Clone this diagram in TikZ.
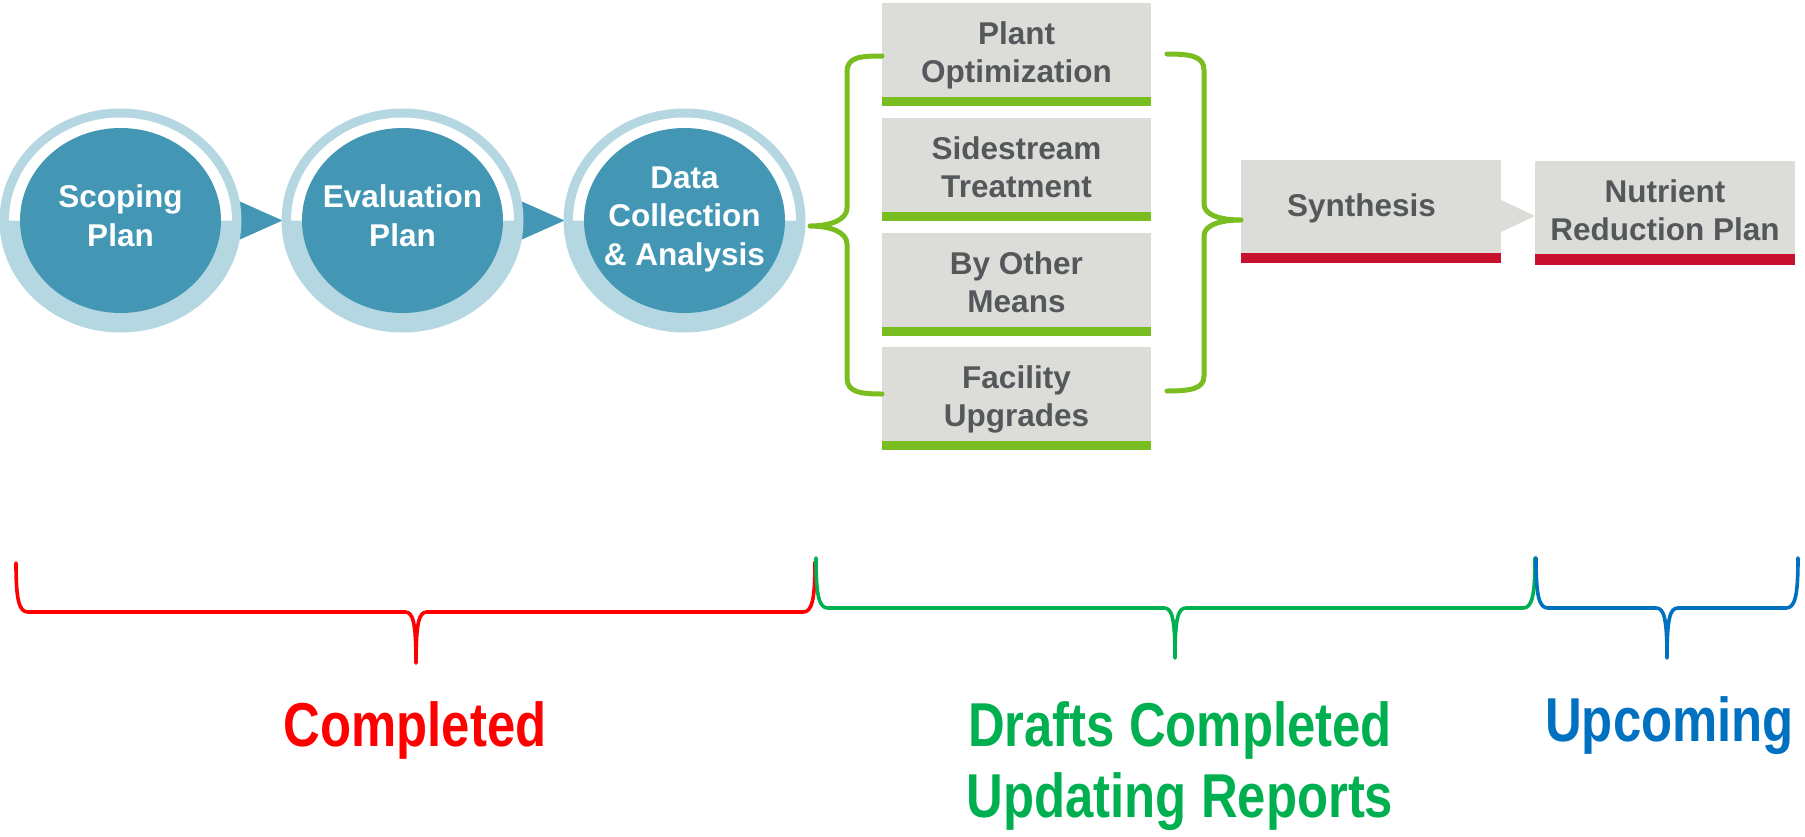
\documentclass[tikz,border=0pt]{standalone}
\usepackage{fontspec}
\setmainfont{Liberation Sans}
\usetikzlibrary{calc}
\definecolor{ringblue}{HTML}{B4D7E2}
\definecolor{darkteal}{HTML}{4397B5}
\definecolor{boxgray}{HTML}{DCDDD8}
\definecolor{bargreen}{HTML}{7ABD21}
\definecolor{barred}{HTML}{C8102E}
\definecolor{txtgray}{HTML}{54585A}
\definecolor{lblred}{HTML}{FF0000}
\definecolor{lblgreen}{HTML}{00B050}
\definecolor{lblblue}{HTML}{0070C0}
\begin{document}
\begin{tikzpicture}[x=1pt,y=-1pt,
  ctext/.style={text=white,font=\fontsize{31.5}{38}\selectfont\bfseries,anchor=base,inner sep=0pt},
  btext/.style={text=txtgray,font=\fontsize{31.5}{38}\selectfont\bfseries,anchor=base,inner sep=0pt},
  gbox/.style={fill=boxgray,anchor=north west,minimum width=269pt,minimum height=94pt,inner sep=0pt,outer sep=0pt},
  rbox/.style={fill=boxgray,anchor=north west,minimum width=260pt,minimum height=93pt,inner sep=0pt,outer sep=0pt},
  lbl/.style={font=\fontsize{62}{70}\selectfont\bfseries,anchor=base,inner sep=0pt},
  topbrace/.style={draw=bargreen,line width=5pt,line cap=round,line join=round},
  lowbrace/.style={line width=3.6pt,line cap=round,line join=round},
]
\useasboundingbox (0,0) rectangle (1805,836);

% circle centres
\coordinate (c1) at (120.5,220.5);
\coordinate (c2) at (402.5,220.5);
\coordinate (c3) at (684.5,220.5);

% arrow triangles between circles
\fill[darkteal] ($(c1)+(109.5,-23.4)$) -- ($(c2)+(-120,0)$) -- ($(c1)+(109.5,23.4)$) -- cycle;
\fill[darkteal] ($(c2)+(109.5,-23.4)$) -- ($(c3)+(-120,0)$) -- ($(c2)+(109.5,23.4)$) -- cycle;

% circles
\foreach \c in {c1,c2,c3}{
  \fill[ringblue] (\c) ellipse [x radius=121, y radius=112];
  \fill[white] ($(\c)+(-111.5,0)$) arc [start angle=180, end angle=360, x radius=111.5, y radius=103] -- cycle;
  \fill[darkteal] (\c) ellipse [x radius=100.5, y radius=92.5];
}
\node[ctext] (t1a) at ($(c1)+(0,-13.5)$) {Scoping};
\node[ctext] (t1b) at ($(c1)+(0,25.5)$) {Plan};
\node[ctext] (t2a) at ($(c2)+(0,-13.5)$) {Evaluation};
\node[ctext] (t2b) at ($(c2)+(0,25.5)$) {Plan};
\node[ctext] (t3a) at ($(c3)+(0,-32.5)$) {Data};
\node[ctext] (t3b) at ($(c3)+(0,6)$) {Collection};
\node[ctext] (t3c) at ($(c3)+(0,44.5)$) {\&~Analysis};

% four option boxes
\node[gbox] (b1) at (882,3) {};
\node[gbox] (b2) at (882,118) {};
\node[gbox] (b3) at (882,233) {};
\node[gbox] (b4) at (882,347) {};
\foreach \b in {b1,b2,b3,b4}{
  \fill[bargreen] (\b.south west) rectangle ($(\b.south east)+(0,9)$);
}
\node[btext] (b1a) at ($(b1.north)+(0,41)$) {Plant};
\node[btext] (b1b) at ($(b1.north)+(0,79)$) {Optimization};
\node[btext] (b2a) at ($(b2.north)+(0,41)$) {Sidestream};
\node[btext] (b2b) at ($(b2.north)+(0,79)$) {Treatment};
\node[btext] (b3a) at ($(b3.north)+(0,41)$) {By Other};
\node[btext] (b3b) at ($(b3.north)+(0,79)$) {Means};
\node[btext] (b4a) at ($(b4.north)+(0,41)$) {Facility};
\node[btext] (b4b) at ($(b4.north)+(0,79)$) {Upgrades};

% synthesis and plan boxes
\node[rbox] (s) at (1241,160) {};
\node[rbox] (n) at (1535,161) {};
\fill[barred] (s.south west) rectangle ($(s.south east)+(0,10)$);
\fill[barred] (n.south west) rectangle ($(n.south east)+(0,10.5)$);
\fill[boxgray] ($(s.north east)+(0,40)$) -- ($(n.north west)+(0,55)$) -- ($(s.north east)+(0,72)$) -- cycle;
\node[btext] (st) at ($(s.north west)+(120.5,56)$) {Synthesis};
\node[btext] (na) at ($(n.north)+(0,41)$) {Nutrient};
\node[btext] (nb) at ($(n.north)+(0,79)$) {Reduction Plan};

% left brace (circle 3 to the boxes)
\draw[topbrace] ($(b1.north west)+(0,53)$) .. controls (860,56) and (847,57) .. (847,72)
  -- (847,208) .. controls (847,220) and (830,226) .. (810,226)
  .. controls (830,226) and (847,232) .. (847,244)
  -- (847,378) .. controls (847,392) and (860,394) .. ($(b4.north west)+(0,47)$);
% right brace (boxes to synthesis)
\draw[topbrace] (1167,54) .. controls (1190,54) and (1204,56) .. (1204,70)
  -- (1204,204) .. controls (1204,215) and (1220,220) .. ($(s.north west)+(0,60)$)
  .. controls (1220,220) and (1204,225) .. (1204,236)
  -- (1204,376) .. controls (1204,389) and (1190,391) .. (1167,391);

% lower braces
\draw[lowbrace,draw=lblred] (16,563) .. controls (16,600) and (19,612) .. (28,612)
  -- (405,612) .. controls (413,612) and (416,622) .. (416,663)
  .. controls (416,622) and (419,612) .. (427,612)
  -- (803,612) .. controls (812,612) and (815,600) .. (815,562);
\draw[lowbrace,draw=lblgreen] (816,558) .. controls (816,596) and (819,608) .. (828,608)
  -- (1164,608) .. controls (1172,608) and (1175,618) .. (1175,658)
  .. controls (1175,618) and (1178,608) .. (1186,608)
  -- (1523,608) .. controls (1532,608) and (1535,596) .. (1535,558);
\draw[lowbrace,draw=lblblue] (1536,558) .. controls (1536,596) and (1539,608) .. (1548,608)
  -- (1656,608) .. controls (1664,608) and (1667,618) .. (1667,658)
  .. controls (1667,618) and (1670,608) .. (1678,608)
  -- (1786,608) .. controls (1795,608) and (1798,596) .. (1798,558);

% labels
\node[lbl,text=lblred] (lc) at (415,746) {\scalebox{0.82}[1]{Completed}};
\node[lbl,text=lblgreen] (ld1) at (1180,746) {\scalebox{0.82}[1]{Drafts Completed}};
\node[lbl,text=lblgreen] (ld2) at (1180,817) {\scalebox{0.82}[1]{Updating Reports}};
\node[lbl,text=lblblue] (lu) at (1669.5,741) {\scalebox{0.82}[1]{Upcoming}};
\end{tikzpicture}
\end{document}
